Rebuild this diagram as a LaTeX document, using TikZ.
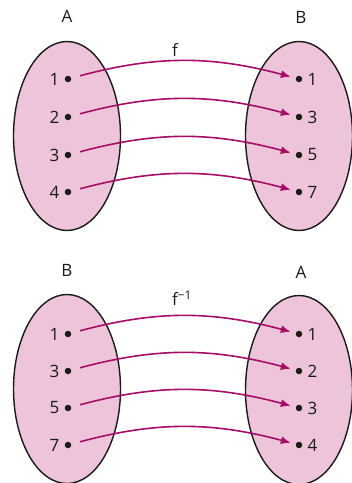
\documentclass[tikz,border=0pt]{standalone}
\usepackage{fontspec}
\setmainfont{Open Sans}
\usepackage{tikz}
\usetikzlibrary{arrows.meta, positioning, shapes.geometric}
\definecolor{setfill}{HTML}{EDC4D9}
\definecolor{mapcolor}{HTML}{A50D66}
\definecolor{dark}{HTML}{1A1A1A}
\tikzset{
    setoval/.style={
        ellipse, draw=dark, fill=setfill, line width=1.4pt,
        minimum width=107pt, minimum height=189pt
    },
    elemdot/.style={
        circle, fill=dark, inner sep=0pt, minimum size=6.5pt
    },
    elemlab/.style={
        font=\fontsize{17}{20}\selectfont, text=dark, inner sep=0pt
    },
    setlab/.style={
        font=\fontsize{17}{20}\selectfont, text=dark
    },
    maparrow/.style={
        -{Latex[length=10pt, width=8pt]}, line width=1.6pt, color=mapcolor,
        shorten <=9pt, shorten >=5pt, bend left=15
    },
}

\begin{document}
\begin{tikzpicture}[x=1pt, y=-1pt]
    \useasboundingbox (0,0) rectangle (352,483);

    % Top: f maps A to B
    \node[setoval] (setA) at (67,136) {};
    \node[setoval] (setB) at (299,136) {};
    \node[setlab] (nameA) at (67,16) {A};
    \node[setlab] (nameB) at (301,17) {B};
    \node[setlab] (fname) at (175,50) {f};

    \node[elemdot] (a1) at (68,79) {};
    \node[elemdot] (a2) at (68,117) {};
    \node[elemdot] (a3) at (68,155) {};
    \node[elemdot] (a4) at (68,192) {};
    \node[elemlab, left=5pt of a1] (a1l) {1};
    \node[elemlab, left=5pt of a2] (a2l) {2};
    \node[elemlab, left=5pt of a3] (a3l) {3};
    \node[elemlab, left=5pt of a4] (a4l) {4};

    \node[elemdot] (b1) at (299,79) {};
    \node[elemdot] (b2) at (299,117) {};
    \node[elemdot] (b3) at (299,155) {};
    \node[elemdot] (b4) at (299,192) {};
    \node[elemlab, right=5pt of b1] (b1l) {1};
    \node[elemlab, right=5pt of b2] (b2l) {3};
    \node[elemlab, right=5pt of b3] (b3l) {5};
    \node[elemlab, right=5pt of b4] (b4l) {7};

    \draw[maparrow] (a1) to (b1);
    \draw[maparrow] (a2) to (b2);
    \draw[maparrow] (a3) to (b3);
    \draw[maparrow] (a4) to (b4);

    % Bottom: f^{-1} maps B to A
    \node[setoval] (invB) at (67,389) {};
    \node[setoval] (invA) at (299,390) {};
    \node[setlab] (inameB) at (67,270) {B};
    \node[setlab] (inameA) at (301,272) {A};
    \node[setlab] (finv) at (182,298) {f\textsuperscript{\char"2212 1}};

    \node[elemdot] (ib1) at (68,334) {};
    \node[elemdot] (ib2) at (68,371) {};
    \node[elemdot] (ib3) at (68,408) {};
    \node[elemdot] (ib4) at (68,445) {};
    \node[elemlab, left=5pt of ib1] (ib1l) {1};
    \node[elemlab, left=5pt of ib2] (ib2l) {3};
    \node[elemlab, left=5pt of ib3] (ib3l) {5};
    \node[elemlab, left=5pt of ib4] (ib4l) {7};

    \node[elemdot] (ia1) at (299,334) {};
    \node[elemdot] (ia2) at (299,371) {};
    \node[elemdot] (ia3) at (299,408) {};
    \node[elemdot] (ia4) at (299,445) {};
    \node[elemlab, right=5pt of ia1] (ia1l) {1};
    \node[elemlab, right=5pt of ia2] (ia2l) {2};
    \node[elemlab, right=5pt of ia3] (ia3l) {3};
    \node[elemlab, right=5pt of ia4] (ia4l) {4};

    \draw[maparrow] (ib1) to (ia1);
    \draw[maparrow] (ib2) to (ia2);
    \draw[maparrow] (ib3) to (ia3);
    \draw[maparrow] (ib4) to (ia4);

\end{tikzpicture}
\end{document}
